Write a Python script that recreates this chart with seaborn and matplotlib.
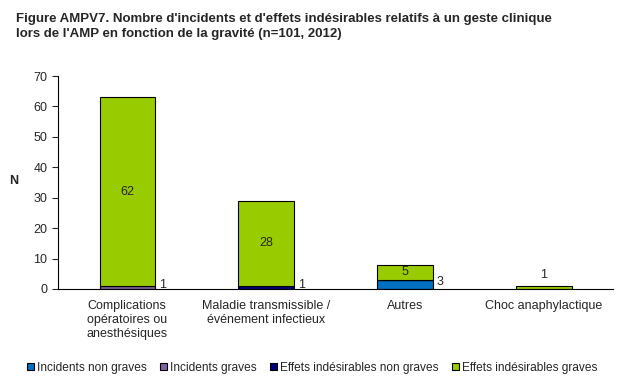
import pandas as pd
import matplotlib.pyplot as plt
import seaborn as sns

categories = ["Complications\nopératoires ou\nanesthésiques",
              "Maladie transmissible /\névénement infectieux",
              "Autres",
              "Choc anaphylactique"]
series = ["Incidents non graves", "Incidents graves",
          "Effets indésirables non graves", "Effets indésirables graves"]
incidents_non_graves = [0, 0, 3, 0]
incidents_graves = [1, 0, 0, 0]
effets_non_graves = [0, 1, 0, 0]
effets_graves = [62, 28, 5, 1]
colors = ["#0070C0", "#8064A2", "#000080", "#99CC00"]

values = [incidents_non_graves, incidents_graves, effets_non_graves, effets_graves]

sns.set_style("white")
plt.rcParams["font.family"] = ["Liberation Sans", "DejaVu Sans"]

fig = plt.figure(figsize=(6.22, 3.82), dpi=100)
ax = fig.add_axes([0.093, 0.2435, 0.893, 0.5575])

totals = [sum(v[i] for v in values) for i in range(4)]
bottom = [0, 0, 0, 0]
for name, vals, col in zip(series, values, colors):
    df = pd.DataFrame({"cat": categories, "val": vals})
    sns.barplot(data=df, x="cat", y="val", bottom=bottom, color=col,
                width=0.4, edgecolor="black", linewidth=0.8, label=name,
                ax=ax, saturation=1)
    for i, v in enumerate(vals):
        if v == 0:
            continue
        if v >= 4:
            ax.text(i, bottom[i] + v / 2, str(v), ha="center", va="center", fontsize=9)
        elif v == totals[i]:
            ax.text(i, bottom[i] + v + 1.5, str(v), ha="center", va="bottom", fontsize=9)
        else:
            ax.text(i + 0.23, bottom[i] + v / 2 + 0.8, str(v), ha="left", va="center", fontsize=9)
    bottom = [b + v for b, v in zip(bottom, vals)]

ax.set_ylim(0, 70)
ax.set_xlim(-0.5, 3.5)
ax.set_yticks(range(0, 71, 10))
ax.set_xlabel("")
ax.set_ylabel("")
fig.text(14 / 622, 1 - 181 / 382, "N", ha="center", va="center", fontsize=9, fontweight="bold")
ax.set_xticks([0, 1, 2, 3])
ax.set_xticklabels(categories, fontsize=9)
ax.tick_params(axis="x", length=0, pad=8)
ax.set_xticks([-0.5, 0.5, 1.5, 2.5, 3.5], minor=True)
ax.tick_params(axis="x", which="minor", length=5, direction="out", width=0.8)
ax.tick_params(axis="y", length=4, direction="out", width=0.8, labelsize=9, left=True)
for s in ["top", "right"]:
    ax.spines[s].set_visible(False)
for s in ["left", "bottom"]:
    ax.spines[s].set_color("black")
    ax.spines[s].set_linewidth(0.8)

ax.legend(loc="center", bbox_to_anchor=(0.458, -0.37), ncol=4, frameon=False,
          fontsize=8.6, handlelength=0.6, handleheight=0.6, handletextpad=0.25,
          columnspacing=1.1)

fig.text(0.025, 0.965, "Figure AMPV7. Nombre d'incidents et d'effets indésirables relatifs à un geste clinique\n"
         "lors de l'AMP en fonction de la gravité (n=101, 2012)",
         ha="left", va="top", fontsize=9.5, fontweight="bold", linespacing=1.3)

fig.savefig("out.png", dpi=100)
